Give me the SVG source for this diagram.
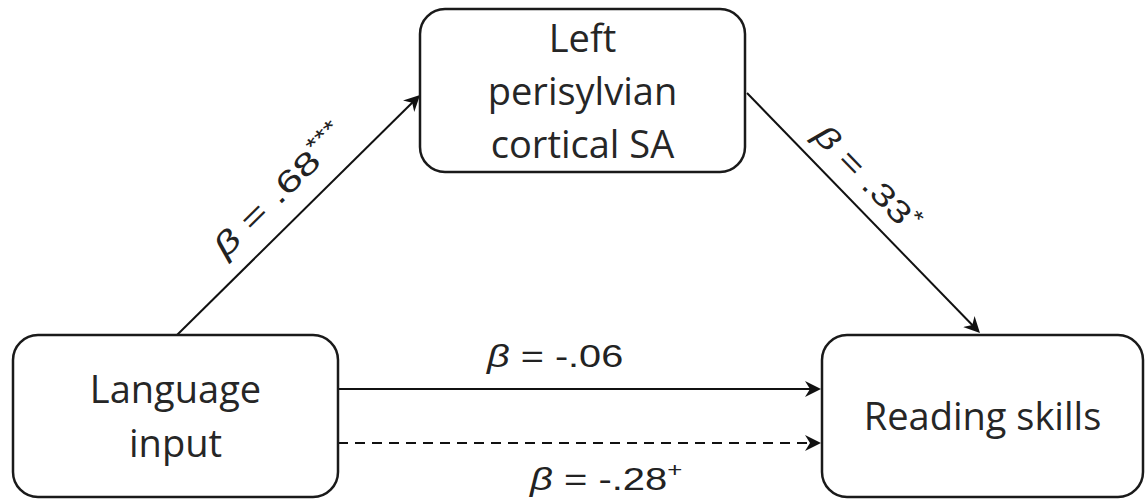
<svg xmlns="http://www.w3.org/2000/svg" width="1146" height="501" viewBox="0 0 1146 501">
<style>
.box{fill:#fff;stroke:#1a1a1a;stroke-width:2.5}
.nt{font-family:"Open Sans","Noto Sans",sans-serif;font-size:38px;fill:#262626;text-anchor:middle}
.lbl{font-family:"Liberation Sans",Arial,sans-serif;font-size:31px;fill:#222}
.b{font-style:italic}
.sup{font-size:22px}
.ln{stroke:#111;stroke-width:2;fill:none}
.dash{stroke-dasharray:10 7}
</style>
<defs>
<marker id="ah" markerUnits="userSpaceOnUse" markerWidth="20" markerHeight="20" viewBox="0 -10 20 20" refX="6" refY="0" orient="auto">
<path d="M0,-8 L16,0 L0,8 L5,0 Z" fill="#111"/>
</marker>
</defs>
<g id="connectors">
<line class="ln" x1="177" y1="335" x2="412.9" y2="102" marker-end="url(#ah)"/>
<line class="ln" x1="747" y1="93" x2="973" y2="325.8" marker-end="url(#ah)"/>
<line class="ln" x1="338" y1="389" x2="811" y2="389" marker-end="url(#ah)"/>
<line class="ln dash" x1="338" y1="443" x2="811" y2="443" marker-end="url(#ah)"/>
<text class="lbl" transform="translate(177,335) rotate(-44.65) translate(88,-20) scale(1.42,1)"><tspan class="b">β</tspan> = .68<tspan class="sup" dy="-12">***</tspan></text>
<text class="lbl" transform="translate(747,93) rotate(45.85) translate(77,-16) scale(1.3,1)"><tspan class="b">β</tspan> = .33<tspan class="sup" dy="-11">*</tspan></text>
<text class="lbl" transform="translate(487,367) scale(1.28,1)"><tspan class="b">β</tspan> = -.06</text>
<text class="lbl" transform="translate(530,490) scale(1.29,1)"><tspan class="b">β</tspan> = -.28<tspan class="sup" dy="-13" style="font-size:20px">+</tspan></text>
</g>
<g id="node-cortical">
<rect class="box" x="420" y="9" width="325" height="163" rx="25"/>
<text class="nt" x="582.5" y="52">Left</text>
<text class="nt" x="582.5" y="105">perisylvian</text>
<text class="nt" x="582.5" y="158">cortical SA</text>
</g>
<g id="node-language">
<rect class="box" x="13" y="335" width="325" height="162" rx="25"/>
<text class="nt" x="175.5" y="403">Language</text>
<text class="nt" x="175.5" y="457">input</text>
</g>
<g id="node-reading">
<rect class="box" x="822" y="335" width="321" height="162" rx="25"/>
<text class="nt" x="982.5" y="430">Reading skills</text>
</g>
</svg>
